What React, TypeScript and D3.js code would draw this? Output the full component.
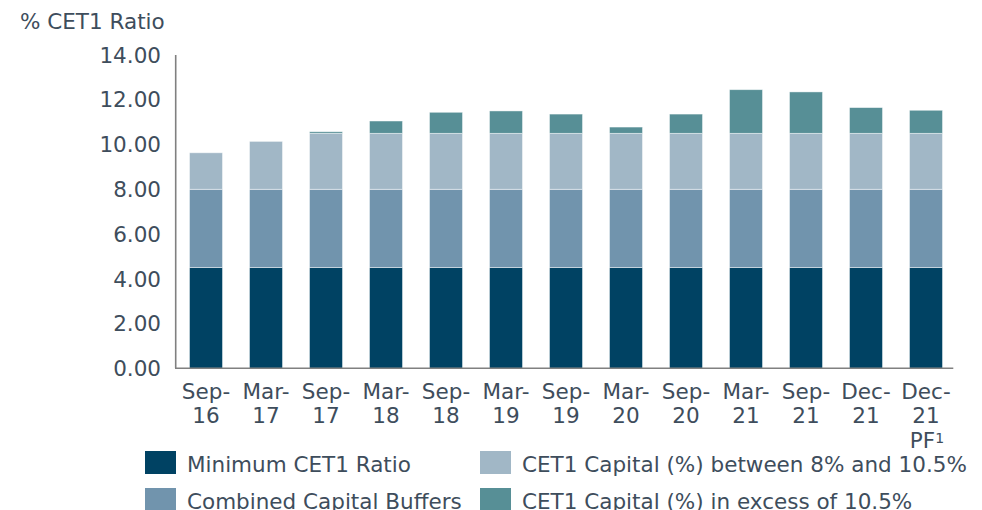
import React from 'react';
import * as d3 from 'd3';

// reporting dates, two lines each
const periods = ['Sep-16', 'Mar-17', 'Sep-17', 'Mar-18', 'Sep-18', 'Mar-19', 'Sep-19', 'Mar-20', 'Sep-20', 'Mar-21', 'Sep-21', 'Dec-21', 'Dec-21 PF'];

// stacked components (%)
const minimumRatio = [4.5, 4.5, 4.5, 4.5, 4.5, 4.5, 4.5, 4.5, 4.5, 4.5, 4.5, 4.5, 4.5];
const capitalBuffers = [3.5, 3.5, 3.5, 3.5, 3.5, 3.5, 3.5, 3.5, 3.5, 3.5, 3.5, 3.5, 3.5];
const between8and105 = [1.63, 2.14, 2.5, 2.5, 2.5, 2.5, 2.5, 2.5, 2.5, 2.5, 2.5, 2.5, 2.5];
const excess105 = [0, 0, 0.07, 0.55, 0.94, 1.0, 0.86, 0.28, 0.86, 1.95, 1.85, 1.15, 1.03];

const seriesNames = ['Minimum CET1 Ratio', 'Combined Capital Buffers', 'CET1 Capital (%) between 8% and 10.5%', 'CET1 Capital (%) in excess of 10.5%'];
const seriesColors = ['#004263', '#7194ad', '#a1b7c6', '#578f96'];

const yTicks = [0, 2, 4, 6, 8, 10, 12, 14];

const W = 982;
const H = 510;
const textColor = '#3e4d5c';
const font = '"DejaVu Sans", Verdana, sans-serif';

export default function App() {
    const x = d3.scaleBand<string>()
        .domain(periods)
        .range([176, 956])
        .paddingInner(0.45)
        .paddingOuter(0.225);

    const y = d3.scaleLinear()
        .domain([0, 14])
        .range([368.3, 55]);

    const rows = periods.map((p, i) => ({
        period: p,
        s0: minimumRatio[i],
        s1: capitalBuffers[i],
        s2: between8and105[i],
        s3: excess105[i],
    }));

    const stack = d3.stack<any>().keys(['s0', 's1', 's2', 's3']);
    const layers = stack(rows);

    const fmt = d3.format('.2f');

    // legend layout: two columns, two rows
    const legendItems = [
        { name: seriesNames[0], color: seriesColors[0], col: 0, row: 0 },
        { name: seriesNames[1], color: seriesColors[1], col: 0, row: 1 },
        { name: seriesNames[2], color: seriesColors[2], col: 1, row: 0 },
        { name: seriesNames[3], color: seriesColors[3], col: 1, row: 1 },
    ];
    const legendX = [145, 480];

    return (
        <svg width={W} height={H} style={{ position: 'absolute', left: 0, top: 0, display: 'block', background: '#fff' }}
            fontFamily={font} fill={textColor}>
            <text x={20} y={29} fontSize={21.5}>% CET1 Ratio</text>

            {/* bars */}
            {layers.map((layer, li) => (
                <g key={li} fill={seriesColors[li]}>
                    {layer.map((d, i) => {
                        const h = y(d[0]) - y(d[1]);
                        if (h <= 0) return null;
                        return (
                            <rect key={i}
                                x={x(periods[i])}
                                y={y(d[1])}
                                width={x.bandwidth()}
                                height={h}
                                stroke="#ffffff"
                                strokeOpacity={0.55}
                                strokeWidth={0.8} />
                        );
                    })}
                </g>
            ))}

            {/* y axis */}
            <line x1={175.7} x2={175.7} y1={y(14)} y2={y(0)} stroke="#808080" strokeWidth={1.6} />
            {yTicks.map(t => (
                <text key={t} x={161} y={y(t)} dy="0.36em" textAnchor="end" fontSize={21.5}>{fmt(t)}</text>
            ))}

            {/* x axis */}
            <line x1={175} x2={953.3} y1={y(0)} y2={y(0)} stroke="#808080" strokeWidth={1.6} />
            {periods.map(p => {
                const cx = (x(p) as number) + x.bandwidth() / 2;
                const [mon, rest] = p.split('-');
                const [yr, extra] = rest.split(' ');
                return (
                    <g key={p} textAnchor="middle">
                        <text x={cx} y={399.3} fontSize={21.5}>{mon + '-'}</text>
                        <text x={cx} y={422.7} fontSize={21.5}>{yr}</text>
                        {extra && (
                            <text x={cx + 1} y={447.5} fontSize={21.5}>
                                {extra}<tspan fontSize={14} dy={-5}>1</tspan>
                            </text>
                        )}
                    </g>
                );
            })}

            {/* legend */}
            {legendItems.map(item => {
                const lx = legendX[item.col];
                const ly = 451 + item.row * 37;
                return (
                    <g key={item.name}>
                        <rect x={lx} y={ly} width={31} height={23} fill={item.color} />
                        <text x={lx + 42} y={ly + 20.7} fontSize={21.5}>{item.name}</text>
                    </g>
                );
            })}
        </svg>
    );
}
